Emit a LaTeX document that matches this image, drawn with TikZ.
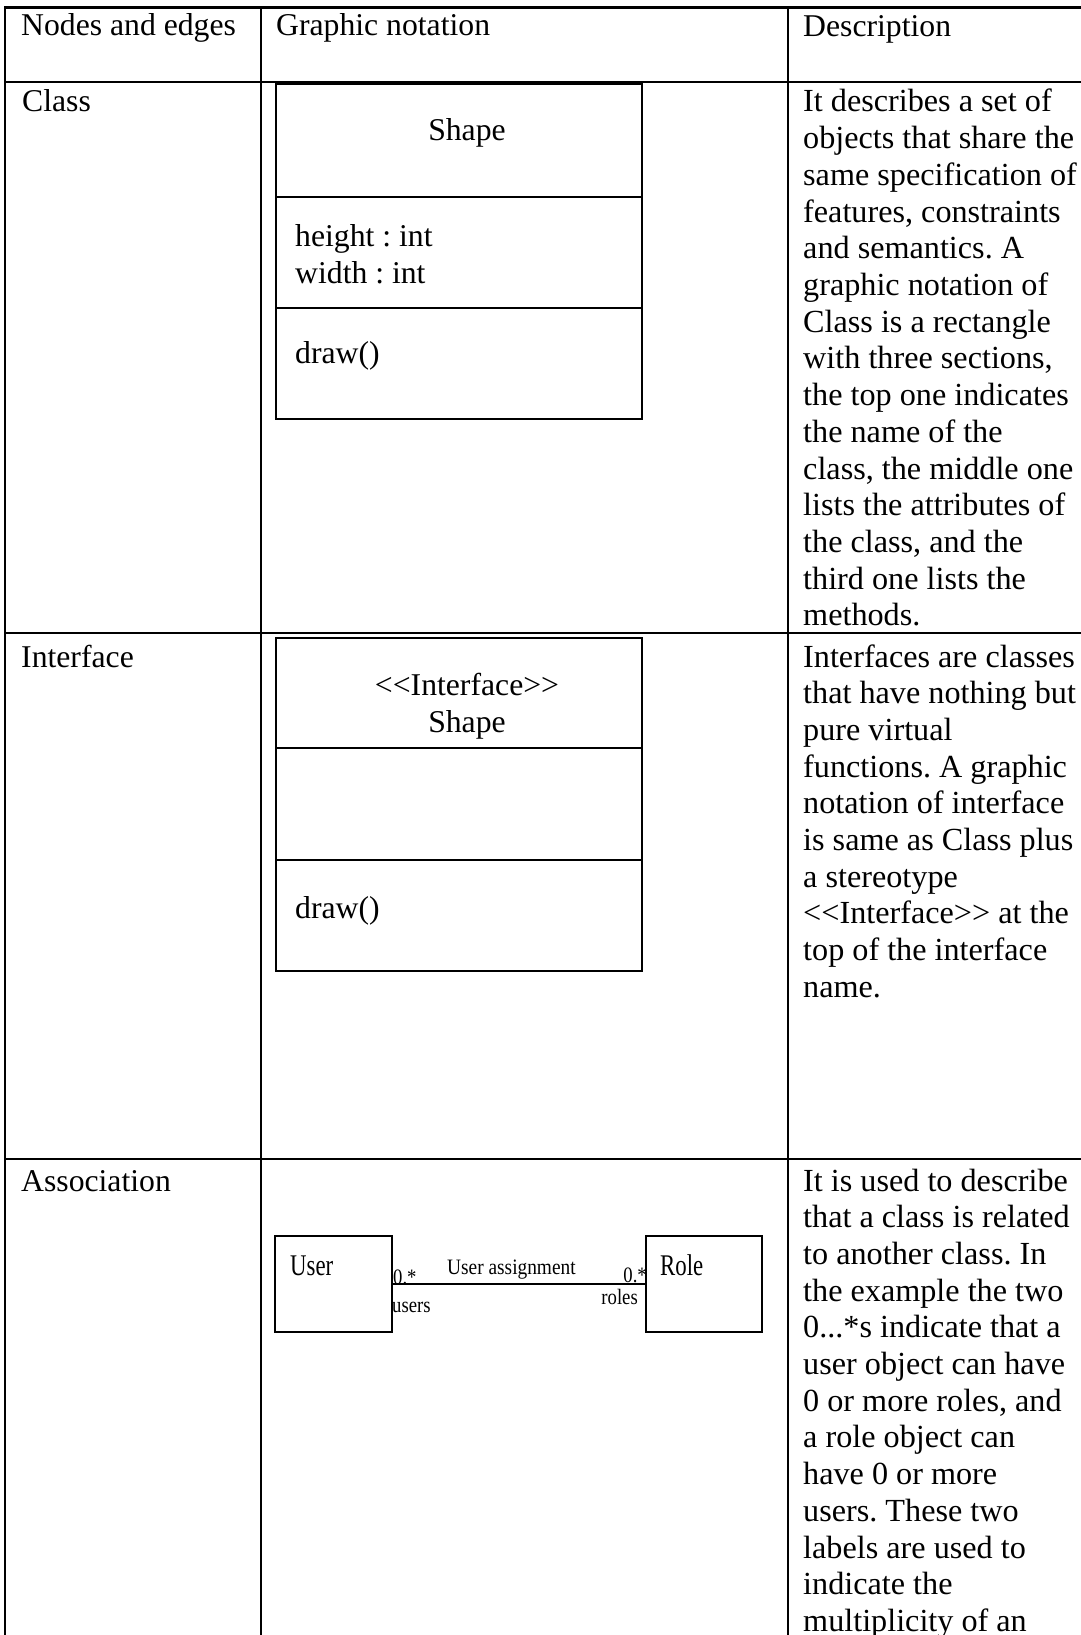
\documentclass[tikz,border=0pt]{standalone}
\usepackage{fontspec}
\usepackage{graphicx}
\setmainfont{Liberation Serif}
\frenchspacing
% two angle brackets without the TeX ligature turning them into guillemets
\newcommand\lguil{<\kern0pt<}
\newcommand\rguil{>\kern0pt>}
% three full stops, kept away from the list syntax of \foreach
\newcommand\threedots{...}
\begin{document}
\begin{tikzpicture}[x=1pt,y=-1pt,
  rule/.style={line width=2.4pt, line cap=rect},
  umlbox/.style={draw, line width=1.8pt, inner sep=0pt, minimum width=366pt},
  smallbox/.style={draw, line width=1.6pt, inner sep=0pt, minimum height=96pt},
  txt/.style={anchor=base west, inner sep=0pt, font=\fontsize{31.7}{36.7}\selectfont},
  desc/.style={anchor=base west, inner sep=0pt, font=\fontsize{32.2}{36.7}\selectfont},
  ctxt/.style={anchor=base, inner sep=0pt, font=\fontsize{31.7}{36.7}\selectfont},
  bigname/.style={anchor=base west, inner sep=0pt, font=\fontsize{30}{34}\selectfont},
  tag/.style={inner sep=0pt, font=\fontsize{22}{26}\selectfont},
  link/.style={line width=1.6pt}]
\useasboundingbox (0,0) rectangle (1081,1635);
\clip (0,0) rectangle (1081,1635);

% table rules
\draw[rule] (5,7.5) -- (1081,7.5);
\draw[rule] (5,82) -- (1081,82);
\draw[rule] (5,633) -- (1081,633);
\draw[rule] (5,1159) -- (1081,1159);
\draw[rule] (5,7.5) -- (5,1640);
\draw[rule] (261,7.5) -- (261,1640);
\draw[rule] (788,7.5) -- (788,1640);

% header
\node[txt] (h1) at (21,36) {Nodes and edges};
\node[txt] (h2) at (276,36) {Graphic notation};
\node[txt] (h3) at (803,37) {Description};

% row labels
\node[txt] (r1) at (22,112) {Class};
\node[txt] (r2) at (21,667) {Interface};
\node[txt] (r3) at (21,1191) {Association};

% class notation
\node[umlbox, minimum height=113pt] (clsname) at (459,140.5) {};
\node[umlbox, minimum height=111pt] (clsattr) at (459,252.5) {};
\node[umlbox, minimum height=111pt] (clsops) at (459,363.5) {};
\node[ctxt] (clsn) at (467,141) {Shape};
\node[txt] (clsa1) at (295,246) {height : int};
\node[txt] (clsa2) at (295,283) {width : int};
\node[txt] (clso) at (295,363) {draw()};

% interface notation
\node[umlbox, minimum height=110pt] (ifname) at (459,693) {};
\node[umlbox, minimum height=112pt] (ifattr) at (459,804) {};
\node[umlbox, minimum height=111pt] (ifops) at (459,915.5) {};
\node[ctxt] (ifs) at (467,695) {\lguil Interface\rguil};
\node[ctxt] (ifn) at (467,732) {Shape};
\node[txt] (ifo) at (295,918) {draw()};

% association notation
\node[smallbox, minimum width=117pt] (user) at (333.5,1284) {};
\node[smallbox, minimum width=116pt] (role) at (704,1284) {};
\draw[link] (user.east) -- (role.west);
\node[bigname] (usern) at (290,1275) {\scalebox{0.76}[1]{User}};
\node[bigname] (rolen) at (660,1275) {\scalebox{0.76}[1]{Role}};
\node[tag, anchor=base west] (assocn) at (447,1274) {\scalebox{0.88}[1]{User assignment}};
\node[tag, anchor=base west] (m1) at (393,1284) {\scalebox{0.85}[1]{0.*}};
\node[tag, anchor=base west] (rn1) at (392,1312) {\scalebox{0.85}[1]{users}};
\node[tag, anchor=base east] (m2) at (647,1282) {\scalebox{0.85}[1]{0.*}};
\node[tag, anchor=base east] (rn2) at (638,1304) {\scalebox{0.85}[1]{roles}};

% descriptions
\foreach \dline [count=\i from 0] in {
  {It describes a set of},
  {objects that share the},
  {same specification of},
  {features, constraints},
  {and semantics. A},
  {graphic notation of},
  {Class is a rectangle},
  {with three sections,},
  {the top one indicates},
  {the name of the},
  {class, the middle one},
  {lists the attributes of},
  {the class, and the},
  {third one lists the},
  {methods.}}
  \node[desc] (clsd\i) at (803,{112+36.7*\i}) {\dline};

\foreach \dline [count=\i from 0] in {
  {Interfaces are classes},
  {that have nothing but},
  {pure virtual},
  {functions. A graphic},
  {notation of interface},
  {is same as Class plus},
  {a stereotype},
  {\lguil Interface\rguil\ at the},
  {top of the interface},
  {name.}}
  \node[desc] (ifd\i) at (803,{667+36.7*\i}) {\dline};

\foreach \dline [count=\i from 0] in {
  {It is used to describe},
  {that a class is related},
  {to another class. In},
  {the example the two},
  {0\threedots*s indicate that a},
  {user object can have},
  {0 or more roles, and},
  {a role object can},
  {have 0 or more},
  {users. These two},
  {labels are used to},
  {indicate the},
  {multiplicity of an}}
  \node[desc] (asd\i) at (803,{1191+36.7*\i}) {\dline};
\end{tikzpicture}
\end{document}
